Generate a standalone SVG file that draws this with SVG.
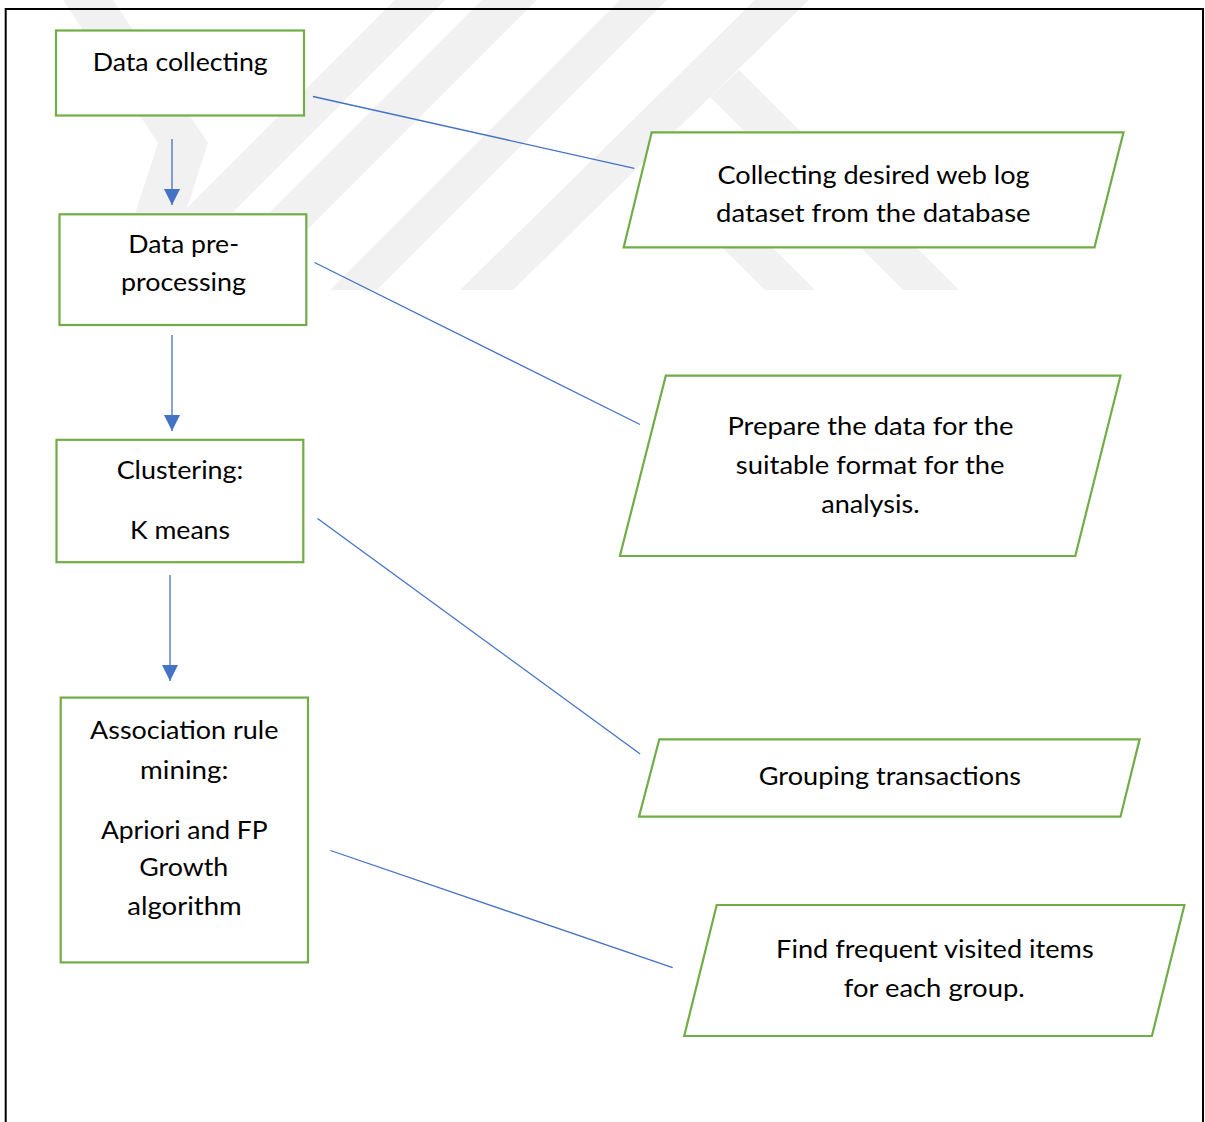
<svg xmlns="http://www.w3.org/2000/svg" width="1205" height="1122" viewBox="0 0 1205 1122">
  <style>
    .wm { fill: #f1f1f1; }
    .box { fill: #ffffff; stroke: #70ad47; stroke-width: 2.2; }
    .lbl { font-family: Lato, "Open Sans", "Liberation Sans", sans-serif; font-size: 25.5px; fill: #000000; text-anchor: middle; }
    .conn { stroke: #4472c4; stroke-width: 1.3; fill: none; }
    .flow { stroke: #4472c4; stroke-width: 1.3; fill: none; marker-end: url(#ah); }
  </style>
  <defs>
    <marker id="ah" markerUnits="userSpaceOnUse" markerWidth="16" markerHeight="16" viewBox="0 0 16 16" refX="16" refY="8" orient="auto">
      <path d="M0,0 L16,8 L0,16 Z" fill="#4472c4"/>
    </marker>
  </defs>
  <rect x="0" y="0" width="1205" height="1122" fill="#ffffff"/>
  <g id="watermark">
    <polygon class="wm" points="63,0 113,0 208,143 185,214 135,214 158,143"/>
    <polygon class="wm" points="395,0 445,0 214,231 164,231"/>
    <polygon class="wm" points="482,0 537,0 247,290 192,290"/>
    <polygon class="wm" points="620,0 667,0 377,290 330,290"/>
    <polygon class="wm" points="755,0 809,0 513,290 460,290"/>
    <polygon class="wm" points="739,70 959,290 903,290 710,97"/>
    <polygon class="wm" points="667,142 815,290 765,290 642,167"/>
  </g>
  <path id="frame" d="M5.7,1122 V9 H1203 V1122" fill="none" stroke="#000000" stroke-width="2"/>
  <g id="connectors">
    <line class="flow" x1="172" y1="139" x2="172" y2="205"/>
    <line class="flow" x1="172" y1="335" x2="172" y2="431"/>
    <line class="flow" x1="170" y1="575" x2="170" y2="681"/>
    <line class="conn" x1="313" y1="96.5" x2="634.3" y2="168.3"/>
    <line class="conn" x1="314.5" y1="262.5" x2="640" y2="424.5"/>
    <line class="conn" x1="317.5" y1="518.5" x2="640.2" y2="754"/>
    <line class="conn" x1="330.5" y1="850.5" x2="672.7" y2="967.7"/>
  </g>
  <g id="n1">
    <rect class="box" x="56" y="30.5" width="248" height="85"/>
    <text class="lbl" x="180.2" y="70.7" textLength="175" lengthAdjust="spacingAndGlyphs">Data collecting</text>
  </g>
  <g id="n2">
    <rect class="box" x="59.5" y="214.3" width="246.8" height="110.7"/>
    <text class="lbl" x="183.7" y="253.3" textLength="110.7" lengthAdjust="spacingAndGlyphs">Data pre-</text>
    <text class="lbl" x="183.5" y="290.7" textLength="125" lengthAdjust="spacingAndGlyphs">processing</text>
  </g>
  <g id="n3">
    <rect class="box" x="56.5" y="439.8" width="246.8" height="122.4"/>
    <text class="lbl" x="180" y="479" textLength="126.7" lengthAdjust="spacingAndGlyphs">Clustering:</text>
    <text class="lbl" x="180" y="538.7" textLength="100" lengthAdjust="spacingAndGlyphs">K means</text>
  </g>
  <g id="n4">
    <rect class="box" x="60.7" y="697.6" width="247.3" height="264.8"/>
    <text class="lbl" x="184.2" y="738.7" textLength="188.3" lengthAdjust="spacingAndGlyphs">Association rule</text>
    <text class="lbl" x="184.2" y="779" textLength="88.3" lengthAdjust="spacingAndGlyphs">mining:</text>
    <text class="lbl" x="184.3" y="838.6" textLength="166.7" lengthAdjust="spacingAndGlyphs">Apriori and FP</text>
    <text class="lbl" x="183.8" y="876" textLength="89" lengthAdjust="spacingAndGlyphs">Growth</text>
    <text class="lbl" x="184.5" y="914.7" textLength="114.3" lengthAdjust="spacingAndGlyphs">algorithm</text>
  </g>
  <g id="p1">
    <polygon class="box" points="651.7,132.3 1123.5,132.3 1094.5,247.3 623.7,247.3"/>
    <text class="lbl" x="873.5" y="184" textLength="312" lengthAdjust="spacingAndGlyphs">Collecting desired web log</text>
    <text class="lbl" x="873.3" y="221.7" textLength="314.6" lengthAdjust="spacingAndGlyphs">dataset from the database</text>
  </g>
  <g id="p2">
    <polygon class="box" points="665.8,375.7 1120.5,375.7 1075.3,556 619.9,556"/>
    <text class="lbl" x="870.4" y="435" textLength="286" lengthAdjust="spacingAndGlyphs">Prepare the data for the</text>
    <text class="lbl" x="870.2" y="474.3" textLength="268.7" lengthAdjust="spacingAndGlyphs">suitable format for the</text>
    <text class="lbl" x="870.4" y="513.3" textLength="98.4" lengthAdjust="spacingAndGlyphs">analysis.</text>
  </g>
  <g id="p3">
    <polygon class="box" points="659.3,739.3 1139.6,739.3 1120.5,816.7 639,816.7"/>
    <text class="lbl" x="889.9" y="785" textLength="262.2" lengthAdjust="spacingAndGlyphs">Grouping transactions</text>
  </g>
  <g id="p4">
    <polygon class="box" points="716.7,905 1184.4,905 1151.9,1036 684.2,1036"/>
    <text class="lbl" x="934.9" y="958.3" textLength="317.6" lengthAdjust="spacingAndGlyphs">Find frequent visited items</text>
    <text class="lbl" x="934.3" y="996.7" textLength="181" lengthAdjust="spacingAndGlyphs">for each group.</text>
  </g>
</svg>
